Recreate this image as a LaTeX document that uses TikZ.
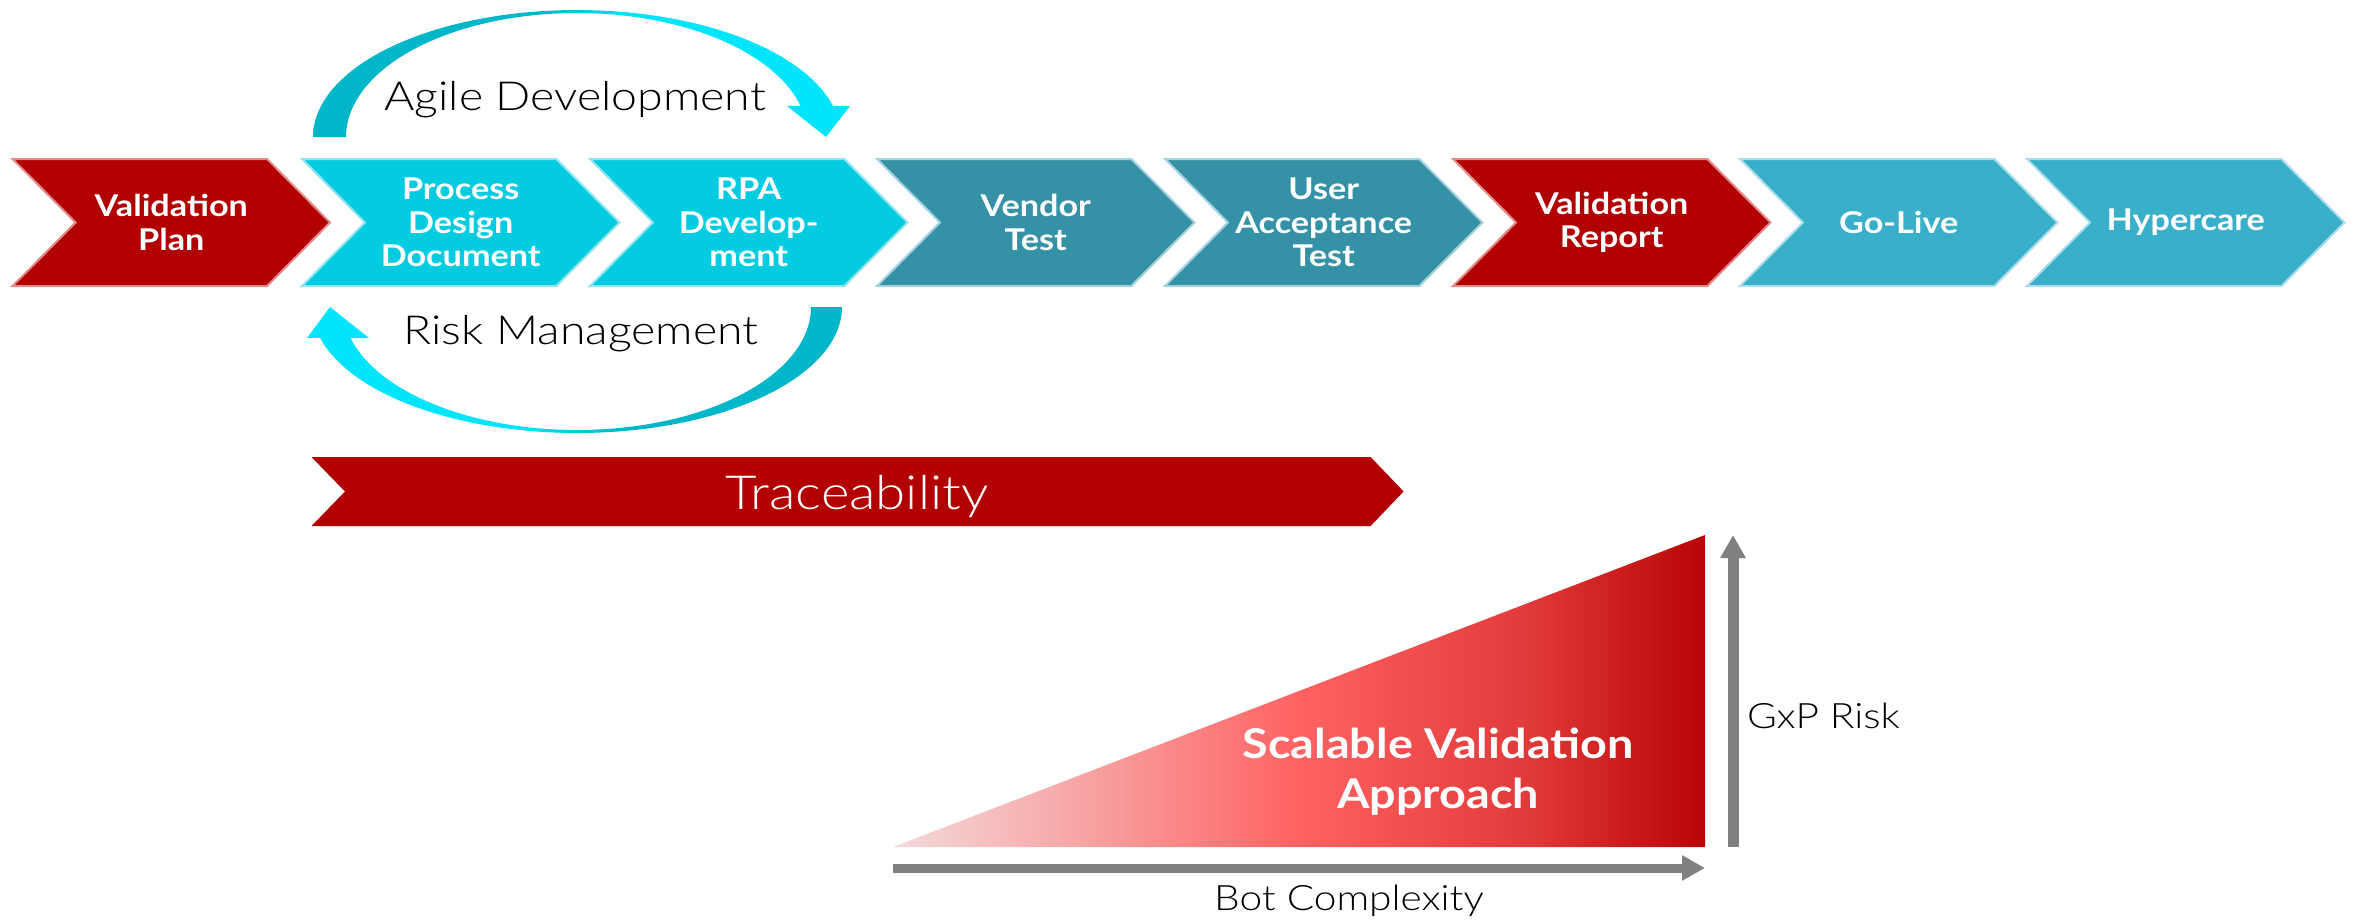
\documentclass[tikz,border=0pt]{standalone}
\usepackage{fontspec}
\setmainfont{Lato}[FakeStretch=1.14]
\newfontfamily\lightfont{Lato Light}[FakeStretch=1.16]
\usetikzlibrary{arrows.meta}
\definecolor{cRed}{HTML}{B20000}
\definecolor{cRedB}{HTML}{E08A8A}
\definecolor{cCyan}{HTML}{03CCE1}
\definecolor{cCyanB}{HTML}{8FE6F0}
\definecolor{cTeal}{HTML}{3592A6}
\definecolor{cTealB}{HTML}{A3D2DC}
\definecolor{cBlue}{HTML}{39AFC9}
\definecolor{cBlueB}{HTML}{A8DDE9}
\definecolor{arcDark}{HTML}{00B6C9}
\definecolor{arcBright}{HTML}{00E5FC}
\definecolor{triA}{HTML}{F4DADA}
\definecolor{triB}{HTML}{F7A2A2}
\definecolor{triC}{HTML}{FF6262}
\definecolor{triD}{HTML}{E23A3A}
\definecolor{triE}{HTML}{B80404}
\definecolor{axisGray}{HTML}{808080}
\pgfdeclarehorizontalshading{arcLR}{100bp}{color(0bp)=(arcDark); color(25bp)=(arcDark); color(46bp)=(arcDark); color(55bp)=(arcBright); color(75bp)=(arcBright); color(100bp)=(arcBright)}
\pgfdeclarehorizontalshading{arcRL}{100bp}{color(0bp)=(arcBright); color(25bp)=(arcBright); color(45bp)=(arcBright); color(54bp)=(arcDark); color(75bp)=(arcDark); color(100bp)=(arcDark)}
\pgfdeclarehorizontalshading{triShade}{100bp}{color(0bp)=(triA); color(25bp)=(triA); color(37bp)=(triB); color(50bp)=(triC); color(64bp)=(triD); color(75bp)=(triE); color(100bp)=(triE)}
\newcommand\mychev[5]{%
  \filldraw[fill=#3, draw=#4, line width=2pt] (#2,159) -- ++(254.4,0) -- ++(63,63.5) -- ++(-63,63.5) -- ++(-254.4,0) -- ++(63,-63.5) -- cycle;
  \node[chevtext] (#1) at (#2+158.7,222.5) {#5};}
\begin{document}
\begin{tikzpicture}[x=1pt,y=-1pt,
  chevtext/.style={text=white, align=center, inner sep=0pt, font=\bfseries\fontsize{30}{33.5}\selectfont},
  lbl/.style={text=black, inner sep=0pt, font=\lightfont\fontsize{40}{46}\selectfont},
  lblsmall/.style={text=black, inner sep=0pt, font=\lightfont\fontsize{35}{40}\selectfont},
  axisarrow/.style={draw=axisGray, -{Triangle[length=23pt,width=24pt]}}]
\useasboundingbox (0,0) rectangle (2353,919);
% process chevrons
\mychev{vp}{12.6}{cRed}{cRedB}{Validation\\Plan}
\mychev{pdd}{302}{cCyan}{cCyanB}{Process\\Design\\Document}
\mychev{rpa}{590}{cCyan}{cCyanB}{RPA\\Develop-\\ment}
\mychev{vt}{877}{cTeal}{cTealB}{Vendor\\Test}
\mychev{uat}{1165}{cTeal}{cTealB}{User\\Acceptance\\Test}
\mychev{vr}{1453}{cRed}{cRedB}{Validation\\Report}
\mychev{gl}{1740}{cBlue}{cBlueB}{Go-Live}
\mychev{hc}{2027}{cBlue}{cBlueB}{Hypercare}
% agile loop (top)
\shade[shading=arcLR] plot[domain=180:345.9, samples=80, variable=\t] ({577+264*cos(\t)}, {137+127*sin(\t)})
  -- (850,106) -- (826,137) -- (787,106)
  -- plot[domain=345.5:180, samples=80, variable=\t] ({577+231*cos(\t)}, {137+124*sin(\t)}) -- cycle;
\node[lbl, anchor=base] (agile) at (575,110) {Agile Development};
% risk loop (bottom)
\shade[shading=arcRL] plot[domain=0:165.8, samples=80, variable=\t] ({577+265*cos(\t)}, {307+126*sin(\t)})
  -- (307,338) -- (330,307) -- (369,338)
  -- plot[domain=165.4:0, samples=80, variable=\t] ({577+234*cos(\t)}, {307+123*sin(\t)}) -- cycle;
\node[lbl, anchor=base] (risk) at (581,344) {Risk Management};
% traceability
\fill[cRed] (311.5,457) -- (1370.6,457) -- (1403.6,491.5) -- (1370.6,526) -- (311.5,526) -- (345,491.5) -- cycle;
\node[text=white, inner sep=0pt, anchor=base, font=\lightfont\fontsize{47}{54}\selectfont] (trace) at (857,509) {Traceability};
% scalable validation triangle
\shade[shading=triShade] (893,847) -- (1705,535) -- (1705,847) -- cycle;
\node[text=white, align=center, inner sep=0pt, font=\bfseries\fontsize{41}{50}\selectfont] (sva) at (1438,772) {Scalable Validation\\Approach};
% axes
\coordinate (xa0) at (893,868);
\coordinate (xa1) at (1705,868);
\coordinate (ya0) at (1733,847);
\coordinate (ya1) at (1733,535);
\draw[axisarrow, line width=9pt] (xa0) -- (xa1);
\draw[axisarrow, line width=11pt] (ya0) -- (ya1);
\node[lblsmall, anchor=base west] (gxp) at (1747,728) {GxP Risk};
\node[lblsmall, anchor=base] (bot) at (1349,910) {Bot Complexity};
\end{tikzpicture}
\end{document}
